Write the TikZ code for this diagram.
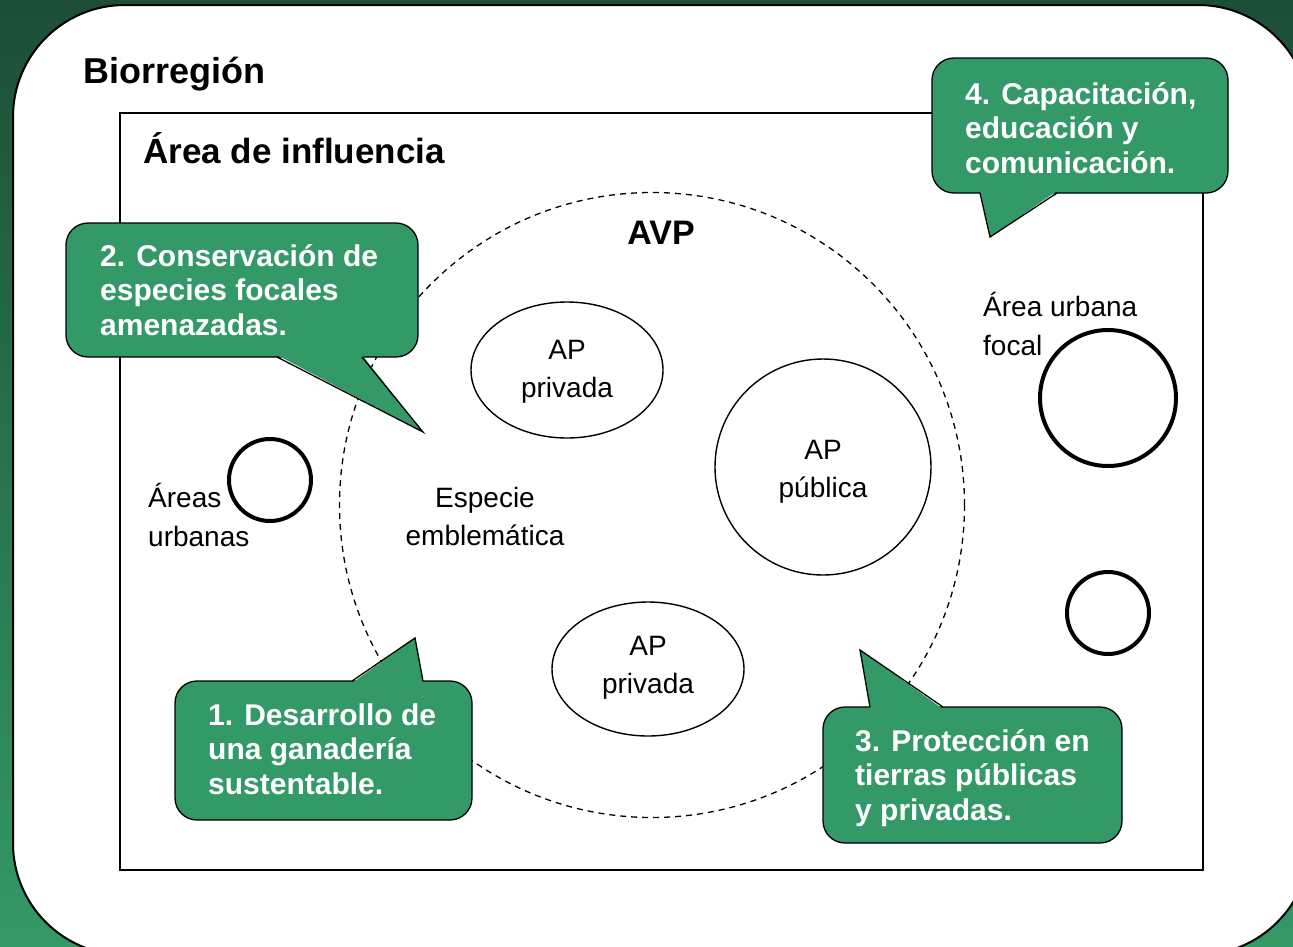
\documentclass[tikz,border=0pt]{standalone}
\usepackage{fontspec}
\usetikzlibrary{shapes.geometric}
\setmainfont{Liberation Sans}
\definecolor{cgreen}{RGB}{51,153,102}
\definecolor{bgdark}{RGB}{28,78,54}
\definecolor{bglight}{RGB}{51,153,102}
\tikzset{
  callout/.style={fill=cgreen, draw=black, line width=1.3pt, rounded corners=22pt, inner sep=0pt},
  tailfill/.style={fill=cgreen},
  tailline/.style={draw=black, line width=1.3pt, line join=miter},
  ctext/.style={text=white, font=\bfseries\fontsize{30}{34.5}\selectfont, align=left, inner sep=0pt, anchor=west},
  lbl/.style={font=\fontsize{28}{38}\selectfont, align=center, inner sep=0pt},
  lbll/.style={font=\fontsize{28}{39}\selectfont, align=left, inner sep=0pt, anchor=west},
  thin/.style={draw=black, line width=1.4pt},
  urb/.style={draw=black, line width=4pt, circle, inner sep=0pt},
  title/.style={font=\bfseries\fontsize{36}{40}\selectfont, inner sep=0pt}
}
\begin{document}
\begin{tikzpicture}[x=1pt, y=-1pt]
\useasboundingbox (0,0) rectangle (1293,946);
\clip (0,0) rectangle (1293,946);
% background
\shade[top color=bgdark, bottom color=bglight] (0,0) rectangle (1293,946);
\filldraw[fill=white, draw=black, line width=2pt, rounded corners=112pt] (13,5) rectangle (1310,955);
% titles
\node[title, anchor=base west] (bio) at (83,83) {Biorregión};
% area de influencia
\draw[black, line width=2.5pt] (120,113) rectangle (1203,870);
\node[font=\bfseries\fontsize{35}{38}\selectfont, inner sep=0pt, anchor=base west] (adi) at (143,163) {Área de influencia};
% AVP dashed circle
\node[draw=black, line width=1.3pt, dash pattern=on 6pt off 5pt, circle, minimum size=625pt, inner sep=0pt] (avp) at (652,505) {};
\node[font=\bfseries\fontsize{34}{38}\selectfont, inner sep=0pt, anchor=base] (avpl) at (661,244) {AVP};
% protected areas
\node[thin, ellipse, minimum width=192pt, minimum height=136pt, inner sep=0pt] (ap1) at (567,370) {};
\node[lbl] (ap1l) at (567,372) {AP\\privada};
\node[thin, circle, minimum size=216pt, inner sep=0pt] (ap2) at (823,467) {};
\node[lbl] (ap2l) at (823,472) {AP\\pública};
\node[thin, ellipse, minimum width=192pt, minimum height=134pt, inner sep=0pt] (ap3) at (648,669) {};
\node[lbl] (ap3l) at (648,668) {AP\\privada};
\node[lbl] (esp) at (485,516) {Especie\\emblemática};
% urban areas
\node[lbll] (urbl) at (148,515) {Áreas\\urbanas};
\node[urb, minimum size=82pt] (u1) at (270,480) {};
\node[lbll] (focl) at (983,324) {Área urbana\\focal};
\node[urb, minimum size=136pt] (u2) at (1108,398) {};
\node[urb, minimum size=82pt] (u3) at (1108,613) {};
% callout 2
\node[callout, minimum width=352pt, minimum height=134pt] (c2) at (242,290) {};
\fill[tailfill] (277,355) -- (423,432) -- (362,355) -- cycle;
\draw[tailline] (277,357) -- (423,432) -- (362,357);
\node[ctext] (c2t) at (100,290) {2. Conservación de\\especies focales\\amenazadas.};
% callout 1
\node[callout, minimum width=297pt, minimum height=139pt] (c1) at (323.5,750.5) {};
\fill[tailfill] (352,683) -- (415,638) -- (423,683) -- cycle;
\draw[tailline] (352,681) -- (415,638) -- (423,681);
\node[ctext] (c1t) at (208,749) {1. Desarrollo de\\una ganadería\\sustentable.};
% callout 3
\node[callout, minimum width=299pt, minimum height=136pt] (c3) at (972.5,775) {};
\fill[tailfill] (870,709) -- (860,650) -- (943,709) -- cycle;
\draw[tailline] (870,707) -- (860,650) -- (943,707);
\node[ctext] (c3t) at (855,778) {3. Protección en\\tierras públicas\\y privadas.};
% callout 4
\node[callout, minimum width=296pt, minimum height=135pt] (c4) at (1080,125.5) {};
\fill[tailfill] (980,191) -- (990,237) -- (1057,191) -- cycle;
\draw[tailline] (980,193) -- (990,237) -- (1057,193);
\node[ctext] (c4t) at (965,128) {4. Capacitación,\\educación y\\comunicación.};
\end{tikzpicture}
\end{document}
